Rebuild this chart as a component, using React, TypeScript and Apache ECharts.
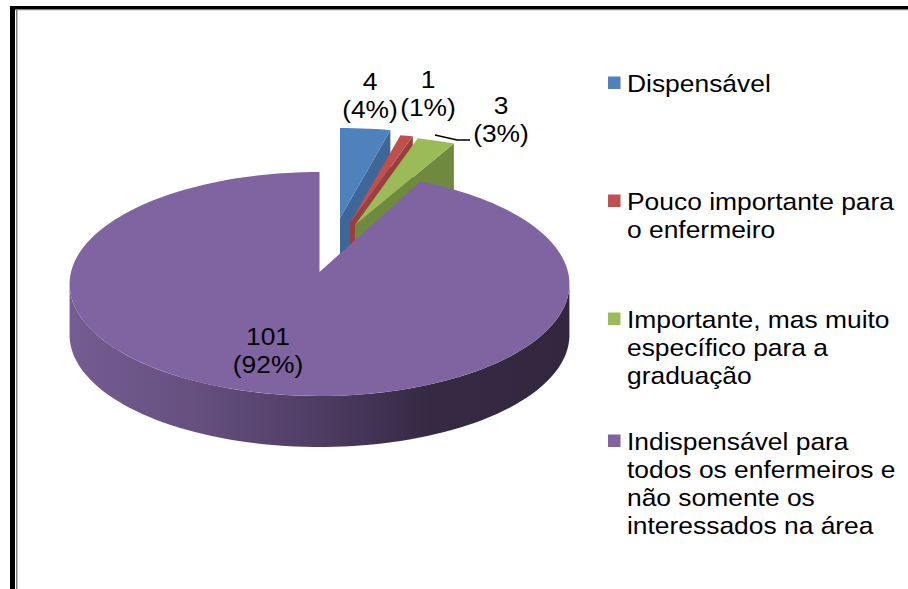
import React, { useEffect, useRef } from "react";
import * as echarts from "echarts";

const categories = [
  "Dispensável",
  "Pouco importante para\no enfermeiro",
  "Importante, mas muito\nespecífico para a\ngraduação",
  "Indispensável para\ntodos os enfermeiros e\nnão somente os\ninteressados na área",
];
const values = [4, 1, 3, 101];
const percents = [4, 1, 3, 92];
const topColors = ["#4f81bd", "#c0504d", "#9bbb59", "#8064a2"];
const wallColors = ["#3f6698", "#9a3f3d", "#6f8a3f", "#5a4470"];

// Drawing layout (projection of the tilted pie), separate from the data
const CX = 319.5, CY = 272, RX = 248.5, AY = 110.7, K = 0.107;
const DEPTH = 51, SMALL_DEPTH = 70;
const apexes = [[340, 218], [350, 223], [355, 225], [CX, CY]];
const radiusScaleX = [0.98, 0.98, 0.98, 1];
const radiusScaleY = [0.9, 0.9, 0.9, 1];
const labelPos = [[370, 95], [428, 93], [501, 119], [268, 350]];
const legendY = [83, 201, 319, 441];
const FONT = "Liberation Sans";
const STRETCH = 1.1;

const total = values.reduce((a, b) => a + b, 0);

function rim(deg: number, sx: number, sy: number, ox: number, oy: number) {
  const t = (deg * Math.PI) / 180;
  const u = Math.sin(t), v = Math.cos(t);
  const d = 1 + K * v;
  return [ox + (sx * RX * u) / d, oy - (sy * AY * v) / d];
}
function arc(a: number, b: number, sx: number, sy: number, ox: number, oy: number) {
  const n = Math.max(4, Math.ceil(Math.abs(b - a) / 2));
  const pts: number[][] = [];
  for (let i = 0; i <= n; i++) pts.push(rim(a + ((b - a) * i) / n, sx, sy, ox, oy));
  return pts;
}

function renderItem(params: any, api: any) {
  const i = params.dataIndex;
  const value = api.value(0);
  const before = values.slice(0, i).reduce((a, b) => a + b, 0);
  const a0 = (before / total) * 360;
  const a1 = ((before + value) / total) * 360;
  const [ox, oy] = apexes[i];
  const sx = radiusScaleX[i], sy = radiusScaleY[i];
  const children: any[] = [];
  const isMain = i === 3;
  const rimPts = arc(a0, a1, sx, sy, ox, oy);
  if (isMain) {
    const upper = arc(97, 263, 1, 1, ox, oy);
    const lower = upper.map(([x, y]) => [x, y + DEPTH]).reverse();
    children.push({
      type: "polygon",
      shape: { points: [...upper, ...lower] },
      style: {
        fill: new echarts.graphic.LinearGradient(0, 0, 1, 0, [
          { offset: 0, color: "#755c91" },
          { offset: 0.25, color: "#655080" },
          { offset: 0.5, color: "#4f3c63" },
          { offset: 0.72, color: "#352944" },
          { offset: 1, color: "#33273f" },
        ]),
      },
    });
  } else {
    const end = rimPts[rimPts.length - 1];
    children.push({
      type: "polygon",
      shape: {
        points: [[ox, oy], end, [end[0], end[1] + SMALL_DEPTH], [ox, oy + SMALL_DEPTH]],
      },
      style: { fill: wallColors[i] },
    });
  }
  children.push({
    type: "polygon",
    shape: { points: [[ox, oy], ...rimPts] },
    style: { fill: topColors[i] },
  });
  children.push({
    type: "text",
    x: labelPos[i][0],
    y: labelPos[i][1],
    scaleX: STRETCH,
    z2: 10,
    style: {
      text: `${value}\n(${percents[i]}%)`,
      align: "center",
      verticalAlign: "middle",
      fontFamily: FONT,
      fontSize: 24,
      lineHeight: 28,
      fill: "#000000",
    },
  });
  return { type: "group", children };
}

export default function App() {
  const ref = useRef<HTMLDivElement>(null);
  useEffect(() => {
    const chart = echarts.init(ref.current!, undefined, { renderer: "svg" });
    const legendGraphics: any[] = [];
    categories.forEach((name, i) => {
      legendGraphics.push({
        type: "rect",
        shape: { x: 608, y: legendY[i] - 6.5, width: 12.5, height: 12.5 },
        style: { fill: topColors[i] },
      });
      legendGraphics.push({
        type: "text",
        x: 627,
        y: legendY[i] - 14,
        scaleX: STRETCH,
        style: {
          text: name,
          fontFamily: FONT,
          fontSize: 24,
          lineHeight: 28,
          verticalAlign: "top",
          fill: "#000000",
        },
      });
    });
    chart.setOption({
      animation: false,
      backgroundColor: "#ffffff",
      graphic: [
        { type: "rect", shape: { x: 10, y: 6, width: 5, height: 583 }, style: { fill: "#000000" } },
        { type: "rect", shape: { x: 10, y: 6, width: 898, height: 3 }, style: { fill: "#000000" } },
        { type: "rect", shape: { x: 16, y: 9, width: 1.5, height: 580 }, style: { fill: "#808080" } },
        { type: "rect", shape: { x: 15, y: 9, width: 893, height: 1.3 }, style: { fill: "#808080" } },
        { type: "polyline", shape: { points: [[435, 135], [457, 140], [470, 140]] }, style: { stroke: "#000000", lineWidth: 1.5, fill: "none" }, z: 20 },
        ...legendGraphics,
      ],
      series: [
        {
          type: "custom",
          coordinateSystem: "none",
          silent: true,
          clip: false,
          data: values.map((v) => [v]),
          encode: { value: 0 },
          renderItem,
        },
      ],
    });
    return () => chart.dispose();
  }, []);
  return <div ref={ref} style={{ position: "absolute", left: 0, top: 0, width: 908, height: 589 }} />;
}
